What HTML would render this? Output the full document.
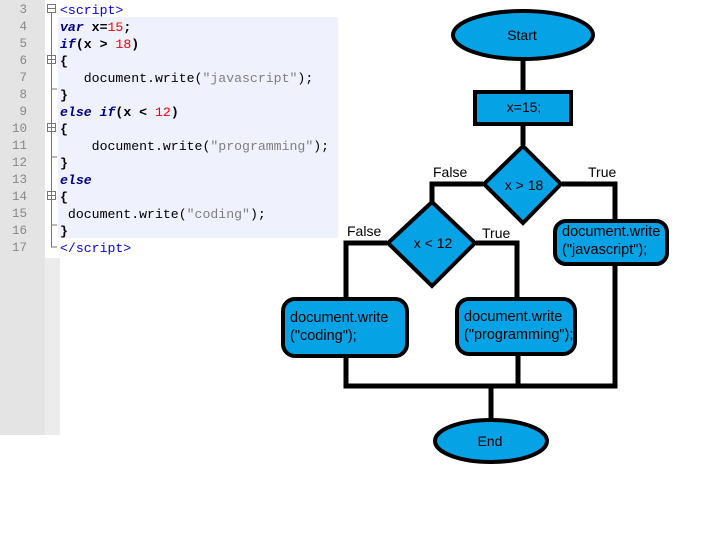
<!DOCTYPE html>
<html><head><meta charset="utf-8"><style>
body{margin:0;width:704px;height:542px;background:#fff;position:relative;overflow:hidden;font-family:"Liberation Sans",sans-serif}
.g{position:absolute;left:0;top:0;width:45px;height:435px;background:#e4e4e4}
.fm{position:absolute;left:45px;top:258px;width:15px;height:177px;background:#ececec}
.cb{position:absolute;left:58px;top:17px;width:280px;height:221px;background:#eff1fd}
.code{position:absolute;left:0;top:2px;font-family:"Liberation Mono",monospace;font-size:13.2px;line-height:17px;white-space:pre}
.ln{position:absolute;left:0;width:27px;text-align:right;color:#888;font-size:12.5px}
.tx{position:absolute;left:60px;color:#000}
.k{color:#00008b;font-style:italic;font-weight:bold}
.n{color:#f00}.s{color:#808080}.t{color:#00f}.p{color:#000080;font-weight:bold}
svg{position:absolute;left:0;top:0}
</style></head><body>
<div class="g"></div><div class="fm"></div><div class="cb"></div>
<div class="code">
<div class="ln" style="top:0">3</div><div class="tx" style="top:0"><span class="t">&lt;script&gt;</span></div>
<div class="ln" style="top:17px">4</div><div class="tx" style="top:17px"><span class="k">var</span> <b>x=</b><span class="n">15</span><b>;</b></div>
<div class="ln" style="top:34px">5</div><div class="tx" style="top:34px"><span class="k">if</span><b>(x &gt; </b><span class="n">18</span><b>)</b></div>
<div class="ln" style="top:51px">6</div><div class="tx" style="top:51px"><b>{</b></div>
<div class="ln" style="top:68px">7</div><div class="tx" style="top:68px">   document.write(<span class="s">"javascript"</span>);</div>
<div class="ln" style="top:85px">8</div><div class="tx" style="top:85px"><b>}</b></div>
<div class="ln" style="top:102px">9</div><div class="tx" style="top:102px"><span class="k">else if</span><b>(x &lt; </b><span class="n">12</span><b>)</b></div>
<div class="ln" style="top:119px">10</div><div class="tx" style="top:119px"><b>{</b></div>
<div class="ln" style="top:136px">11</div><div class="tx" style="top:136px">    document.write(<span class="s">"programming"</span>);</div>
<div class="ln" style="top:153px">12</div><div class="tx" style="top:153px"><b>}</b></div>
<div class="ln" style="top:170px">13</div><div class="tx" style="top:170px"><span class="k">else</span></div>
<div class="ln" style="top:187px">14</div><div class="tx" style="top:187px"><b>{</b></div>
<div class="ln" style="top:204px">15</div><div class="tx" style="top:204px"> document.write(<span class="s">"coding"</span>);</div>
<div class="ln" style="top:221px">16</div><div class="tx" style="top:221px"><b>}</b></div>
<div class="ln" style="top:238px">17</div><div class="tx" style="top:238px"><span class="t">&lt;/script&gt;</span></div>
</div>
<svg width="704" height="542" font-family="Liberation Sans, sans-serif">
<g stroke="#777" fill="#fff" stroke-width="1">
<rect x="47.5" y="4.5" width="8" height="8"/><rect x="47.5" y="55.5" width="8" height="8"/><rect x="47.5" y="123.5" width="8" height="8"/><rect x="47.5" y="191.5" width="8" height="8"/>
<path d="M51.5 13V247H57M51.5 89H57M51.5 157H57M51.5 225H57" fill="none"/>
<line x1="48" y1="8.5" x2="55" y2="8.5"/><line x1="48" y1="59.5" x2="55" y2="59.5"/><line x1="48" y1="127.5" x2="55" y2="127.5"/><line x1="48" y1="195.5" x2="55" y2="195.5"/>
</g>
<g stroke="#000" stroke-width="5" fill="none">
<path d="M523 60V92M523 125V145"/>
<path d="M483 184H432V202M562 184H615V222"/>
<path d="M387 243H346V300M476 243H517V300"/>
<path d="M346 357V386H615V265M518 355V386M491 386V421"/>
</g>
<g stroke="#000" stroke-width="4" fill="#05a3e6">
<ellipse cx="523" cy="35" rx="70" ry="24"/>
<rect x="475" y="92" width="96" height="32"/>
<polygon points="523,146 561,184 523,223 484,184"/>
<polygon points="432,202 475,243 432,286 388,243"/>
<rect x="283" y="299" width="124" height="57" rx="12"/>
<rect x="457" y="299" width="118" height="55" rx="12"/>
<rect x="555" y="221" width="112" height="43" rx="11"/>
<ellipse cx="491" cy="441" rx="56" ry="21"/>
</g>
<g font-size="14" fill="#000">
<text x="522" y="40" text-anchor="middle">Start</text>
<text x="524" y="112" text-anchor="middle">x=15;</text>
<text x="524" y="190" text-anchor="middle">x &gt; 18</text>
<text x="433" y="248" text-anchor="middle">x &lt; 12</text>
<g font-size="14.5">
<text x="290" y="322">document.write</text><text x="290" y="340">("coding");</text>
<text x="464" y="321">document.write</text><text x="464" y="339">("programming");</text>
<text x="562" y="236">document.write</text><text x="562" y="254">("javascript");</text>
</g>
<text x="490" y="446" text-anchor="middle">End</text>
<text x="433" y="177">False</text><text x="588" y="177">True</text>
<text x="347" y="236">False</text><text x="482" y="238">True</text>
</g>
</svg>
</body></html>
